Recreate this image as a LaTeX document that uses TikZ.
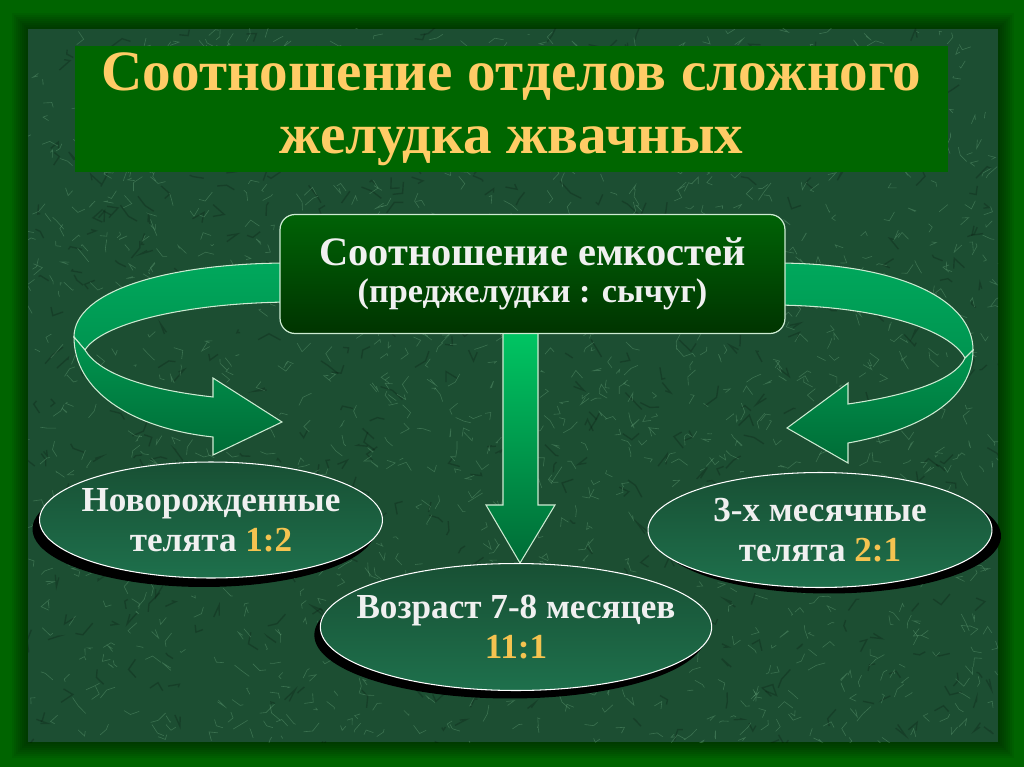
\documentclass[tikz,border=0pt]{standalone}
\usepackage{fontspec}
\setmainfont{Liberation Serif}
\usetikzlibrary{shapes.geometric,shadows}

\definecolor{framegreen}{RGB}{0,100,0}
\definecolor{marble}{RGB}{28,78,50}
\definecolor{veingreen}{RGB}{130,195,150}
\definecolor{titlegreen}{RGB}{0,102,0}
\definecolor{titlegold}{RGB}{255,204,102}
\definecolor{numgold}{RGB}{245,195,80}
\definecolor{paletext}{RGB}{240,240,240}
\definecolor{edgegreen}{RGB}{205,235,210}

\tikzset{
  vein/.style={veingreen, opacity=0.3, line width=0.35pt},
  darkvein/.style={black, opacity=0.18, line width=0.8pt},
  titlebox/.style={fill=titlegreen, minimum width=17.46cm, minimum height=2.38cm,
    text=titlegold, align=center, font=\fontsize{32.5}{36}\selectfont\bfseries},
  ratiobox/.style={rectangle, rounded corners=0.3cm, draw=edgegreen, line width=0.7pt,
    top color={rgb,255:red,0;green,98;blue,6}, bottom color={rgb,255:red,0;green,52;blue,0},
    minimum width=10.1cm, minimum height=2.38cm, text=paletext, align=center,
    font=\fontsize{23}{21}\selectfont\bfseries},
  agebubble/.style={ellipse, draw=white, line width=0.6pt, inner xsep=-12pt, inner ysep=0pt,
    top color={rgb,255:red,24;green,80;blue,52}, middle color={rgb,255:red,42;green,138;blue,94},
    bottom color={rgb,255:red,30;green,112;blue,76},
    text=paletext, align=center, font=\fontsize{20}{22.5}\selectfont\bfseries},
  ribbon/.style={draw=edgegreen, line width=0.6pt},
}

\begin{document}
\begin{tikzpicture}[x=0.02cm, y=-0.02cm]

    % Frame and marble background
    \fill[framegreen] (0,0) rectangle (1024,767);
    \foreach \k in {2,4,...,16}
        \fill[black, opacity=0.06] (28-\k,29-\k) rectangle (998+\k,742+\k);
    \begin{scope}
        \clip (28,29) rectangle (998,742);
        \fill[marble] (28,29) rectangle (998,742);
        \pgfmathsetseed{11}
        \foreach \i in {1,...,500}{
            \pgfmathsetmacro{\dx}{28+970*rnd}
            \pgfmathsetmacro{\dy}{29+713*rnd}
            \draw[darkvein] (\dx,\dy) -- ++(12*rand,12*rand) -- ++(12*rand,12*rand);
        }
        \foreach \i in {1,...,1400}{
            \pgfmathsetmacro{\vx}{28+970*rnd}
            \pgfmathsetmacro{\vy}{29+713*rnd}
            \draw[vein] (\vx,\vy) -- ++(9*rand,9*rand) -- ++(9*rand,9*rand);
        }
    \end{scope}

    % Title
    \node[titlebox] (title) at (511.5,109)
        {Соотношение отделов сложного\\желудка жвачных};

    % Left curved arrow: upper band, then lower band with the head
    \draw[ribbon, top color={rgb,255:red,0;green,168;blue,92}, bottom color={rgb,255:red,0;green,148;blue,80}]
        (290,263) .. controls (170,263) and (74,290) .. (74,337)
        -- (85,350) .. controls (100,325) and (180,303) .. (290,302) -- cycle;
    \draw[ribbon, top color={rgb,255:red,0;green,150;blue,80}, bottom color={rgb,255:red,0;green,108;blue,54}]
        (74,337) .. controls (74,390) and (130,428) .. (213,437)
        -- (213,455) -- (282,422) -- (213,378) -- (213,397)
        .. controls (150,390) and (100,375) .. (85,350) -- cycle;

    % Right curved arrow
    \draw[ribbon, top color={rgb,255:red,0;green,168;blue,92}, bottom color={rgb,255:red,0;green,148;blue,80}]
        (775,263) .. controls (900,263) and (973,300) .. (973,350)
        -- (965,358) .. controls (950,330) and (880,306) .. (775,305) -- cycle;
    \draw[ribbon, top color={rgb,255:red,0;green,150;blue,80}, bottom color={rgb,255:red,0;green,108;blue,54}]
        (973,350) .. controls (973,400) and (920,430) .. (848,443)
        -- (848,463) -- (787,428) -- (848,383) -- (848,404)
        .. controls (910,395) and (955,380) .. (965,358) -- cycle;

    % Down arrow
    \draw[ribbon, top color={rgb,255:red,0;green,200;blue,100}, bottom color={rgb,255:red,0;green,108;blue,54}]
        (503,325) -- (538,325) -- (538,505) -- (555,505) -- (520,563)
        -- (486,505) -- (503,505) -- cycle;

    % Ratio box
    \node[ratiobox] (ratio) at (532.5,274)
        {Соотношение емкостей\\{\fontsize{19.5}{21}\selectfont (преджелудки : сычуг)}};

    % Age ellipses
    \node[agebubble, minimum width=6.86cm, minimum height=2.32cm,
        drop shadow={shadow xshift=-0.14cm, shadow yshift=-0.18cm, fill=black, opacity=1}]
        (newborn) at (211,520) {Новорожденные\\телята {\color{numgold}1:2}};
    \node[agebubble, minimum width=6.88cm, minimum height=2.30cm,
        drop shadow={shadow xshift=0.18cm, shadow yshift=-0.12cm, fill=black, opacity=1}]
        (threemonth) at (820,530) {3-х месячные\\телята {\color{numgold}2:1}};
    \node[agebubble, minimum width=7.72cm, minimum height=2.54cm,
        drop shadow={shadow xshift=-0.12cm, shadow yshift=-0.16cm, fill=black, opacity=1}]
        (eightmonth) at (516,627) {Возраст 7-8 месяцев\\{\color{numgold}11:1}};

\end{tikzpicture}
\end{document}
